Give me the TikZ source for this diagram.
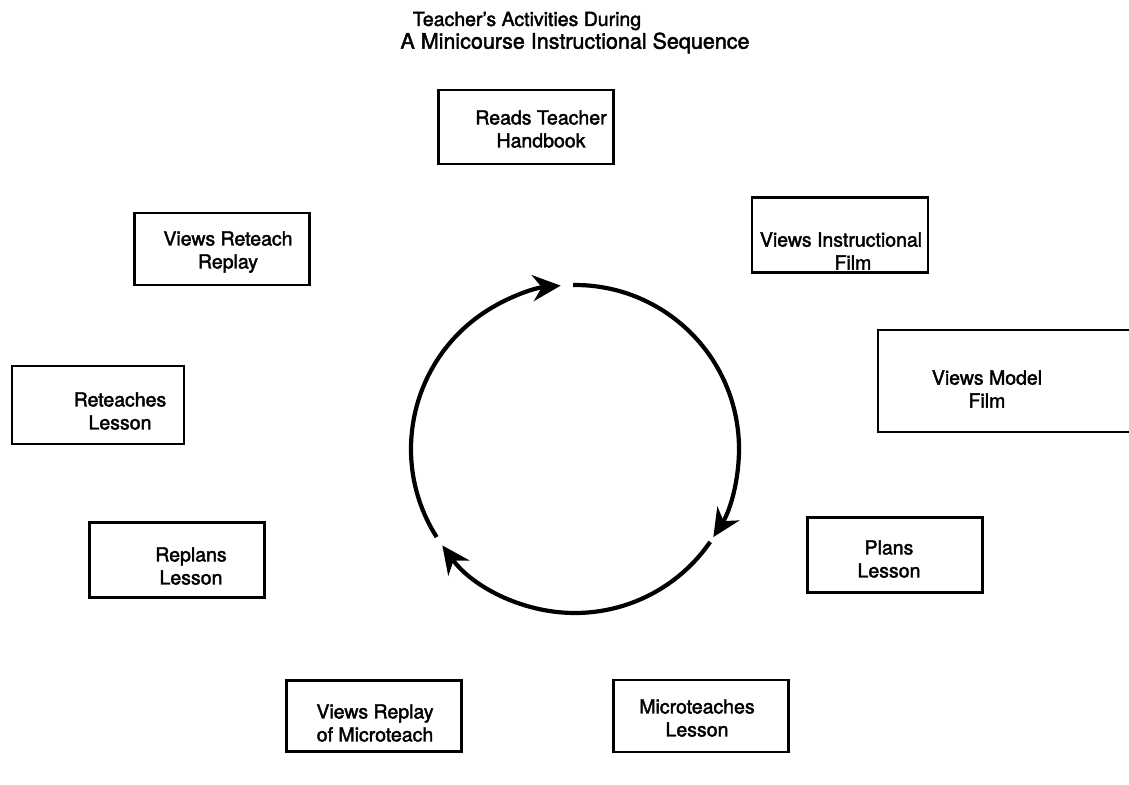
\documentclass[tikz,border=0pt]{standalone}
\usepackage{fontspec}
\setmainfont[FakeBold=2]{TeX Gyre Heros}
\usetikzlibrary{arrows.meta}
\newcommand\myboxfont{\fontsize{19.5}{23}\selectfont}
\begin{document}
\begin{tikzpicture}[x=1pt,y=-1pt,
  box/.style={draw, line width=2.2pt, minimum width=175pt, minimum height=74pt, inner sep=0pt},
  lbl/.style={align=center, font=\myboxfont, inner sep=0pt},
  titletext/.style={inner sep=0pt},
  circ/.style={line width=4.2pt},
  tipped/.style={-{Stealth[length=28pt,width=26pt,inset=9pt]}}]
\useasboundingbox (0,0) rectangle (1129,784);
\fill[white] (0,0) rectangle (1129,784);

\node[titletext, font=\fontsize{19.5}{22}\selectfont] (title1) at (527,21) {Teacher's Activities During};
\node[titletext, font=\fontsize{21.5}{22}\selectfont] (title2) at (575,43) {A Minicourse Instructional Sequence};

\node[box] (reads)   at (526,127) {};
\node[box, minimum width=176pt, minimum height=75pt] (instr) at (840,235) {};
\node[box, minimum width=262pt, minimum height=102pt] (model) at (1009,381) {};
\node[box, minimum height=75pt] (plans)   at (895,555) {};
\node[box, minimum height=72pt] (micro)   at (701,716) {};
\node[box, minimum height=71pt] (vreplay) at (374,716) {};
\node[box, minimum height=75pt] (replans) at (177,560) {};
\node[box, minimum width=172pt, minimum height=78pt] (reteach) at (98,405) {};
\node[box, minimum height=72pt] (vrr) at (222,249) {};

\node[lbl] (readsT)   at (541,129) {Reads Teacher\\Handbook};
\node[lbl] (instrT)   at (841,251) {Views Instructional\\\hspace*{24pt}Film};
\node[lbl] (modelT)   at (987,389) {Views Model\\Film};
\node[lbl] (plansT)   at (889,559) {Plans\\Lesson};
\node[lbl] (microT)   at (697,718) {Microteaches\\Lesson};
\node[lbl] (vreplayT) at (375,723) {Views Replay\\of Microteach};
\node[lbl] (replansT) at (191,566) {Replans\\Lesson};
\node[lbl] (reteachT) at (120,411) {Reteaches\\Lesson};
\node[lbl] (vrrT)     at (228,252) {Views Reteach\\Replay};

\coordinate (ctr) at (575,449);
\draw[circ,tipped] (ctr) ++(-90.7:164) arc[start angle=-90.7, end angle=32.5, radius=164];
\draw[circ,tipped] (ctr) ++(34.5:164) arc[start angle=34.5, end angle=144, radius=164];
\draw[circ,tipped] (ctr) ++(147.5:164) arc[start angle=147.5, end angle=265, radius=164];
\end{tikzpicture}
\end{document}
